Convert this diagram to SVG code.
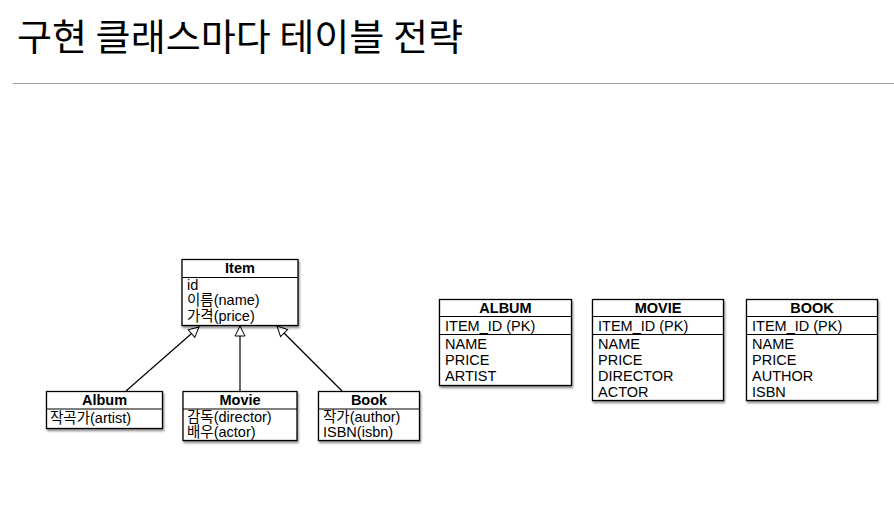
<svg xmlns="http://www.w3.org/2000/svg" width="894" height="507" viewBox="0 0 894 507">
<defs>
<filter id="sh" x="-10%" y="-10%" width="130%" height="130%">
<feDropShadow dx="1" dy="2" stdDeviation="1.2" flood-color="#000" flood-opacity="0.45"/>
</filter>
<marker id="tri" viewBox="0 0 12 12" refX="11" refY="6" markerWidth="12" markerHeight="12" markerUnits="userSpaceOnUse" orient="auto">
<path d="M1,1 L11,6 L1,11 Z" fill="#fff" stroke="#000" stroke-width="1"/>
</marker>
</defs>
<style>
.box{fill:#fff;stroke:#000;stroke-width:1.3}
.ln{stroke:#000;stroke-width:1.2}
.t{font-family:"Liberation Sans","Noto Sans CJK KR",sans-serif;font-size:14.5px;fill:#000}
.h{font-weight:bold;text-anchor:middle}
.conn{stroke:#000;stroke-width:1.2;fill:none}
</style>
<rect width="894" height="507" fill="#fff"/>
<text x="17" y="51" font-family="'Noto Sans CJK KR',sans-serif" font-size="37" textLength="446" lengthAdjust="spacingAndGlyphs" fill="#000">구현 클래스마다 테이블 전략</text>
<line x1="13" y1="83.5" x2="894" y2="83.5" stroke="#a0a0a0" stroke-width="1.2"/>

<g id="connectors">
<line class="conn" x1="126" y1="391" x2="199" y2="327" marker-end="url(#tri)"/>
<line class="conn" x1="240" y1="391" x2="240" y2="326" marker-end="url(#tri)"/>
<line class="conn" x1="342" y1="391" x2="277" y2="326" marker-end="url(#tri)"/>
</g>

<g id="item">
<rect class="box" x="182" y="259.5" width="116" height="66" filter="url(#sh)"/>
<line class="ln" x1="182" y1="277.5" x2="298" y2="277.5"/>
<text class="t h" x="240" y="273">Item</text>
<text class="t" x="187" y="290">id</text>
<text class="t" x="187" y="305">이름(name)</text>
<text class="t" x="187" y="321">가격(price)</text>
</g>

<g id="album">
<rect class="box" x="46.5" y="391.5" width="116" height="37" filter="url(#sh)"/>
<line class="ln" x1="46.5" y1="409" x2="162.5" y2="409"/>
<text class="t h" x="104.5" y="405">Album</text>
<text class="t" x="50" y="423">작곡가(artist)</text>
</g>

<g id="movie">
<rect class="box" x="183" y="391.5" width="114" height="49" filter="url(#sh)"/>
<line class="ln" x1="183" y1="409" x2="297" y2="409"/>
<text class="t h" x="240" y="405">Movie</text>
<text class="t" x="187" y="422">감독(director)</text>
<text class="t" x="187" y="437">배우(actor)</text>
</g>

<g id="book">
<rect class="box" x="318.5" y="391.5" width="101" height="49" filter="url(#sh)"/>
<line class="ln" x1="318.5" y1="409" x2="419.5" y2="409"/>
<text class="t h" x="369" y="405">Book</text>
<text class="t" x="323" y="422">작가(author)</text>
<text class="t" x="323" y="437">ISBN(isbn)</text>
</g>

<g id="album-table">
<rect class="box" x="439.5" y="299.5" width="132" height="86" filter="url(#sh)"/>
<line class="ln" x1="439.5" y1="316.5" x2="571.5" y2="316.5"/>
<line class="ln" x1="439.5" y1="334.5" x2="571.5" y2="334.5"/>
<text class="t h" x="505.5" y="313">ALBUM</text>
<text class="t" x="445" y="331">ITEM_ID (PK)</text>
<text class="t" x="445" y="349">NAME</text>
<text class="t" x="445" y="365">PRICE</text>
<text class="t" x="445" y="381">ARTIST</text>
</g>

<g id="movie-table">
<rect class="box" x="592.5" y="299.5" width="131" height="101" filter="url(#sh)"/>
<line class="ln" x1="592.5" y1="316.5" x2="723.5" y2="316.5"/>
<line class="ln" x1="592.5" y1="334.5" x2="723.5" y2="334.5"/>
<text class="t h" x="658" y="313">MOVIE</text>
<text class="t" x="598" y="331">ITEM_ID (PK)</text>
<text class="t" x="598" y="349">NAME</text>
<text class="t" x="598" y="365">PRICE</text>
<text class="t" x="598" y="381">DIRECTOR</text>
<text class="t" x="598" y="397">ACTOR</text>
</g>

<g id="book-table">
<rect class="box" x="746.5" y="299.5" width="131" height="101" filter="url(#sh)"/>
<line class="ln" x1="746.5" y1="316.5" x2="877.5" y2="316.5"/>
<line class="ln" x1="746.5" y1="334.5" x2="877.5" y2="334.5"/>
<text class="t h" x="812" y="313">BOOK</text>
<text class="t" x="752" y="331">ITEM_ID (PK)</text>
<text class="t" x="752" y="349">NAME</text>
<text class="t" x="752" y="365">PRICE</text>
<text class="t" x="752" y="381">AUTHOR</text>
<text class="t" x="752" y="397">ISBN</text>
</g>
</svg>
